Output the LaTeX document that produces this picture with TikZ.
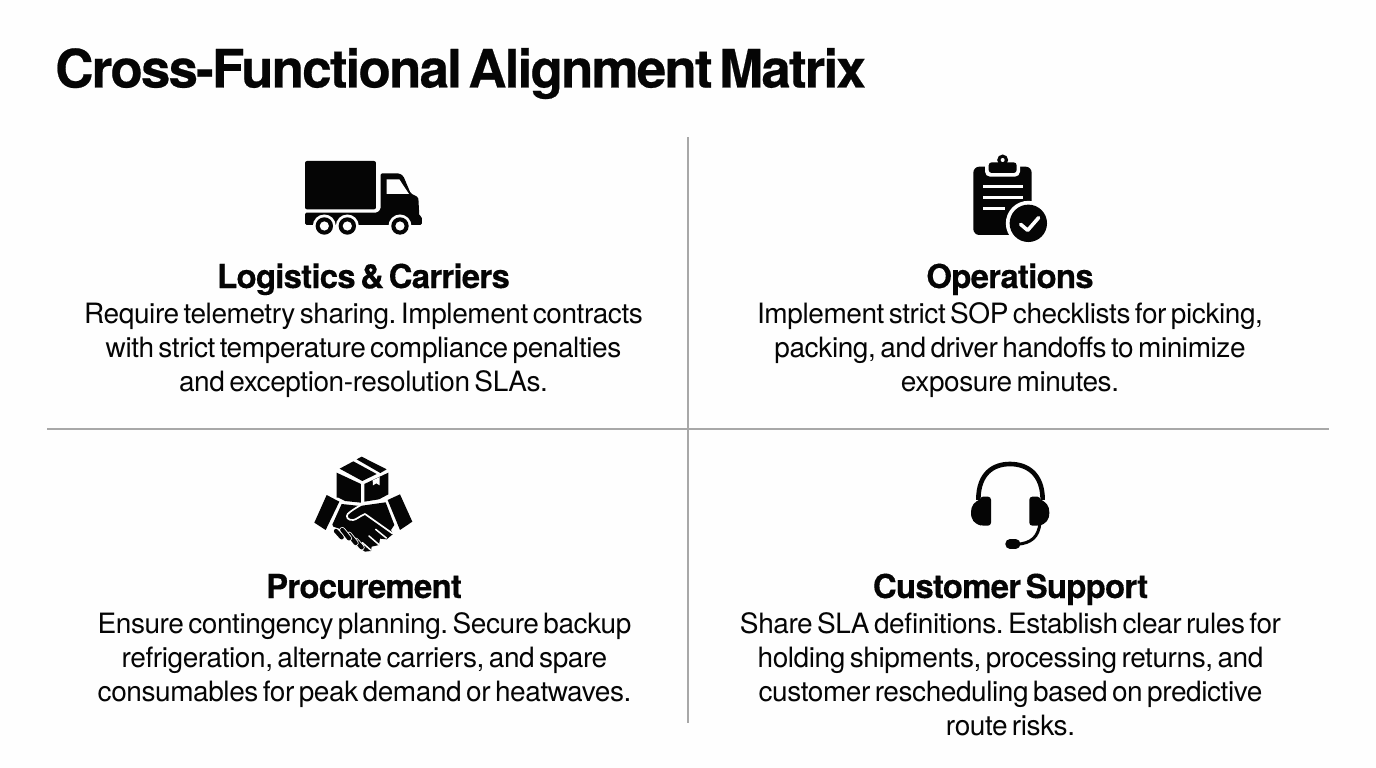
\documentclass[tikz,border=0pt]{standalone}
\usepackage{fontspec}
\setmainfont{TeX Gyre Heros}
\newfontfamily\titlefont[LetterSpace=-3.5,WordSpace=0.5,BoldFeatures={FakeBold=0.4}]{TeX Gyre Heros}
\newfontfamily\headfont[LetterSpace=-2.4,WordSpace=0.55,BoldFeatures={FakeBold=0.3}]{TeX Gyre Heros}
\newfontfamily\bodyfont[LetterSpace=-1.5,WordSpace=0.6]{TeX Gyre Heros}
\definecolor{rulegray}{HTML}{A8A8A8}
\definecolor{paper}{HTML}{FEFEFE}
\definecolor{ink}{HTML}{050505}
\tikzset{
 x=1pt,y=-1pt,
 titletext/.style={anchor=base west,inner sep=0pt,text=ink,font=\titlefont\bfseries\frenchspacing\fontsize{53}{53}\selectfont},
 headtext/.style={anchor=base,inner sep=0pt,text=ink,font=\headfont\bfseries\frenchspacing\fontsize{33}{33}\selectfont},
 bodytext/.style={anchor=base,inner sep=0pt,text=ink,font=\bodyfont\frenchspacing\fontsize{28}{34}\selectfont},
 divider/.style={draw=rulegray,line width=1.1pt},
 iconfill/.style={fill=ink,draw=none},
 iconcut/.style={fill=paper,draw=none},
 iconscope/.style={x=0.3333pt,y=-0.3333pt},
}
\begin{document}
\begin{tikzpicture}
\useasboundingbox[fill=paper] (0,0) rectangle (1376,768);
\node[titletext] (title) at (55,87.5) {Cross-Functional Alignment Matrix};
% dividers
\coordinate (vtop) at (688,137);\coordinate (vbot) at (688,723);
\coordinate (hl) at (47,429);\coordinate (hr) at (1329,429);
\draw[divider] (vtop)--(vbot);
\draw[divider] (hl)--(hr);
% truck
\begin{scope}[shift={(290,150)},iconscope]
\fill[iconfill,rounded corners=2pt] (45,33) rectangle (258,178);
\fill[iconfill,rounded corners=1.5pt] (45,188)--(262,188)--(272,178)--(272,70)--(328,70)--(340,78)--(362,130)--(385,142)--(388,198)--(396,200)--(396,225)--(45,225)--cycle;
\fill[iconcut] (290,88)--(328,88)--(357,132)--(290,132)--cycle;
\foreach \cx in {103,172,330}{
 \fill[iconcut] (\cx,228) circle[radius=11.5pt];
 \fill[iconfill] (\cx,228) circle[radius=8.7pt];
 \fill[iconcut] (\cx,228) circle[radius=4.6pt];
}
\end{scope}
% clipboard
\begin{scope}[shift={(960,145)},iconscope]
\fill[iconfill,rounded corners=6pt] (40,65) rectangle (215,270);
\fill[iconcut,rounded corners=5pt] (75,40) rectangle (180,95);
\fill[iconfill,rounded corners=3pt] (86,52) rectangle (170,84);
\fill[iconfill] (128,45) circle[radius=5.5pt];
\fill[iconcut] (128,45) circle[radius=2pt];
\draw[paper,line width=2.8pt] (70,125)--(188,125) (70,157)--(188,157) (70,190)--(135,190);
\fill[iconcut] (205,235) circle[radius=22.5pt];
\fill[iconfill] (205,235) circle[radius=18.7pt];
\draw[paper,line width=3.6pt,line cap=round,line join=round] (182,238)--(203,256)--(236,218);
\end{scope}
% handshake
\begin{scope}[shift={(305,450)},iconscope]
\fill[iconfill] (95,68)--(168,102)--(168,158)--(120,153)--(100,143)--(95,143)--cycle;
\fill[iconfill] (178,102)--(250,68)--(250,133)--(222,148)--(178,155)--cycle;
\fill[iconfill] (104,56)--(145,34)--(215,72)--(172,93)--cycle;
\fill[iconfill] (155,28)--(170,20)--(245,58)--(226,69)--cycle;
\fill[iconcut] (203,91)--(224,81)--(224,106)--(214,100)--(204,106)--cycle;
\fill[iconfill] (65,135)--(103,155)--(62,240)--(28,218)--cycle;
\fill[iconfill] (248,150)--(285,133)--(322,215)--(285,240)--cycle;
% hands
\fill[iconfill] (110,162)--(165,168)--(242,157)--(268,225)--(258,240)--(264,252)--(245,268)--(225,266)--(222,285)--(200,290)--(198,303)--(180,305)--(150,285)--(115,240)--(85,230)--(82,224)--cycle;
\draw[paper,line width=1.7pt,line join=round,line cap=round] (168,165) .. controls (150,175) and (135,185) .. (128,192) .. controls (122,200) and (128,212) .. (145,210) .. controls (155,208) and (165,198) .. (180,192) -- (262,250);
\draw[paper,line width=1.5pt,line cap=round] (212,238)--(244,264) (192,258)--(222,284) (172,278)--(197,300);
\foreach \ax/\ay/\bx/\by in {152/272/170/292,132/254/152/279,112/240/132/265,93/243/110/262}{
 \draw[paper,line width=6pt,line cap=round] (\ax,\ay)--(\bx,\by);
 \draw[ink,line width=4.3pt,line cap=round] (\ax,\ay)--(\bx,\by);
}
\end{scope}
% headset
\begin{scope}[shift={(960,455)},iconscope]
\draw[ink,line width=4.6pt] (55,135) .. controls (55,55) and (100,27) .. (150,27) .. controls (200,27) and (248,55) .. (248,135);
\fill[iconfill,rounded corners=3pt] (60,125) rectangle (93,212);
\fill[iconfill,rounded corners=3pt] (208,125) rectangle (241,212);
\fill[iconfill] (64,132) .. controls (42,140) and (33,152) .. (33,172) .. controls (33,195) and (42,206) .. (64,212) --cycle;
\fill[iconfill] (237,132) .. controls (259,140) and (268,152) .. (268,172) .. controls (268,195) and (259,206) .. (237,212) --cycle;
\draw[ink,line width=3pt] (240,205) .. controls (235,245) and (215,265) .. (170,268);
\draw[ink,line width=9.5pt,line cap=round] (150,267)--(167,267);
\end{scope}
% headings
\node[headtext] (h1) at (363.5,288) {Logistics \& Carriers};
\node[headtext] (h2) at (1010,288) {Operations};
\node[headtext] (h3) at (364,598) {Procurement};
\node[headtext] (h4) at (1010.5,598) {Customer Support};
% body
\node[bodytext] (b11) at (363.5,323) {Require telemetry sharing. Implement contracts};
\node[bodytext] (b12) at (363.5,357) {with strict temperature compliance penalties};
\node[bodytext] (b13) at (363.5,391) {and exception-resolution SLAs.};
\node[bodytext] (b21) at (1010,323) {Implement strict SOP checklists for picking,};
\node[bodytext] (b22) at (1010,357) {packing, and driver handoffs to minimize};
\node[bodytext] (b23) at (1010,391) {exposure minutes.};
\node[bodytext] (b31) at (364.5,633) {Ensure contingency planning. Secure backup};
\node[bodytext] (b32) at (364.5,667) {refrigeration, alternate carriers, and spare};
\node[bodytext] (b33) at (364.5,701) {consumables for peak demand or heatwaves.};
\node[bodytext] (b41) at (1010.5,633) {Share SLA definitions. Establish clear rules for};
\node[bodytext] (b42) at (1010.5,667) {holding shipments, processing returns, and};
\node[bodytext] (b43) at (1010.5,701) {customer rescheduling based on predictive};
\node[bodytext] (b44) at (1010.5,735) {route risks.};
\end{tikzpicture}
\end{document}
